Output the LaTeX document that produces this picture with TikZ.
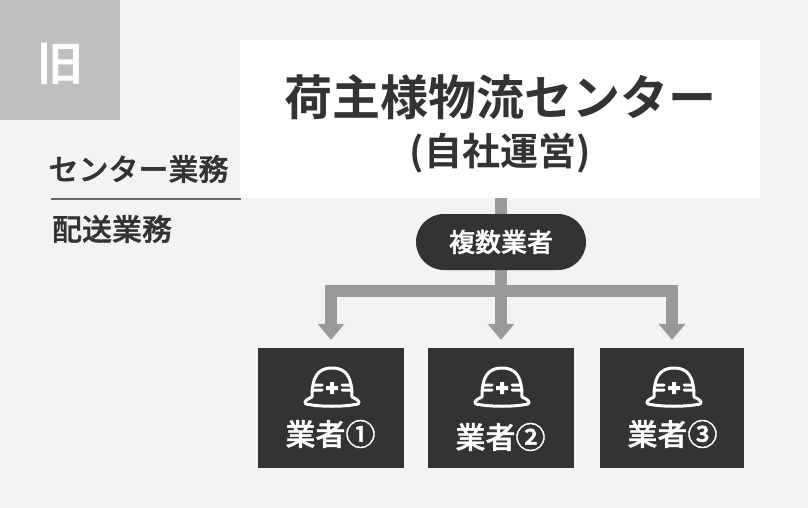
\documentclass[tikz,border=0pt]{standalone}
\usepackage{fontspec}
\newfontfamily\cjk[FakeBold=1.2]{Noto Sans CJK JP Medium}
\newfontfamily\cjkbold{Noto Sans CJK JP Bold}
\usetikzlibrary{arrows.meta}
\definecolor{pagebg}{HTML}{F2F3F5}
\definecolor{inkdark}{HTML}{333333}
\definecolor{flowgray}{HTML}{999999}
\definecolor{tabgray}{HTML}{BFBFBF}
\tikzset{
  vendorbox/.style={fill=inkdark,text=white,minimum width=146pt,minimum height=120pt,inner sep=0pt},
  vendorlabel/.style={text=white,inner sep=0pt,font=\cjk\fontsize{30}{30}\selectfont},
  sidelabel/.style={text=inkdark,inner sep=0pt,font=\cjk\fontsize{30}{30}\selectfont},
  flowline/.style={draw=flowgray,line width=12pt},
  flowarrow/.style={flowline,-{Triangle[width=26pt,length=16pt]},shorten >=8pt},
  helmet/.pic={
    \draw[white,line width=3pt,line join=round,line cap=round]
    (-20,9) .. controls (-20,-10) and (-15,-20) .. (0,-20) .. controls (15,-20) and (20,-10) .. (20,9)
    (-20,9) .. controls (-25,11) and (-29,14) .. (-26,16) .. controls (-12,19) and (12,19) .. (26,16)
    .. controls (29,14) and (25,11) .. (20,9)
    (-19,-3) -- (-10,-3) (-20,2) -- (-10,2) (10,-3) -- (19,-3) (10,2) -- (20,2);
    \fill[white] (-2,-6) rectangle (2,6) (-6,-2) rectangle (6,2);
  }
}
\begin{document}
\begin{tikzpicture}[x=1pt,y=-1pt]
\fill[pagebg] (0,0) rectangle (808,508);
\useasboundingbox (0,0) rectangle (808,508);
% tab
\fill[tabgray] (0,0) rectangle (120,120);
\node[text=white,inner sep=0pt,font=\cjkbold\fontsize{46}{46}\selectfont] (tab) at (60,64) {旧};
% side labels
\node[sidelabel] (center label) at (138.5,169) {センター業務};
\coordinate (rule left) at (51,199);
\coordinate (rule right) at (241,199);
\draw[color=inkdark!75,line width=1.5pt] (rule left) -- (rule right);
\node[sidelabel] (delivery label) at (112,229) {配送業務};
% center box
\fill[white] (240,40) rectangle (760,198);
\node[text=inkdark,inner sep=0pt,font=\cjkbold\fontsize{48}{48}\selectfont] (title) at (500,97) {荷主様物流センター};
\node[text=inkdark,inner sep=0pt,font=\cjkbold\fontsize{38}{38}\selectfont] (subtitle) at (500,153) {(自社運営)};
\coordinate (center bottom) at (501,198);
\coordinate (junction) at (501,291);
% vendors
\node[vendorbox] (vendor one) at (331,408) {};
\node[vendorbox] (vendor two) at (501,408) {};
\node[vendorbox,minimum width=144pt] (vendor three) at (672,408) {};
% connectors
\draw[flowline] (center bottom) -- (junction);
\draw[flowarrow] (junction) -| (vendor one.north);
\draw[flowarrow] (junction) -- (vendor two.north);
\draw[flowarrow] (junction) -| (vendor three.north);
\node[fill=inkdark,text=white,rounded corners=28pt,minimum width=170pt,minimum height=56pt,inner sep=0pt,font=\cjk\fontsize{26}{26}\selectfont] (carriers) at (501,242) {複数業者};
% helmets and labels
\pic at (332,388) {helmet};
\pic at (502,388) {helmet};
\pic at (674,388) {helmet};
\node[vendorlabel] (name one) at (330.5,434) {業者①};
\node[vendorlabel] (name two) at (500.5,437) {業者②};
\node[vendorlabel] (name three) at (672.5,434) {業者③};
\end{tikzpicture}
\end{document}
